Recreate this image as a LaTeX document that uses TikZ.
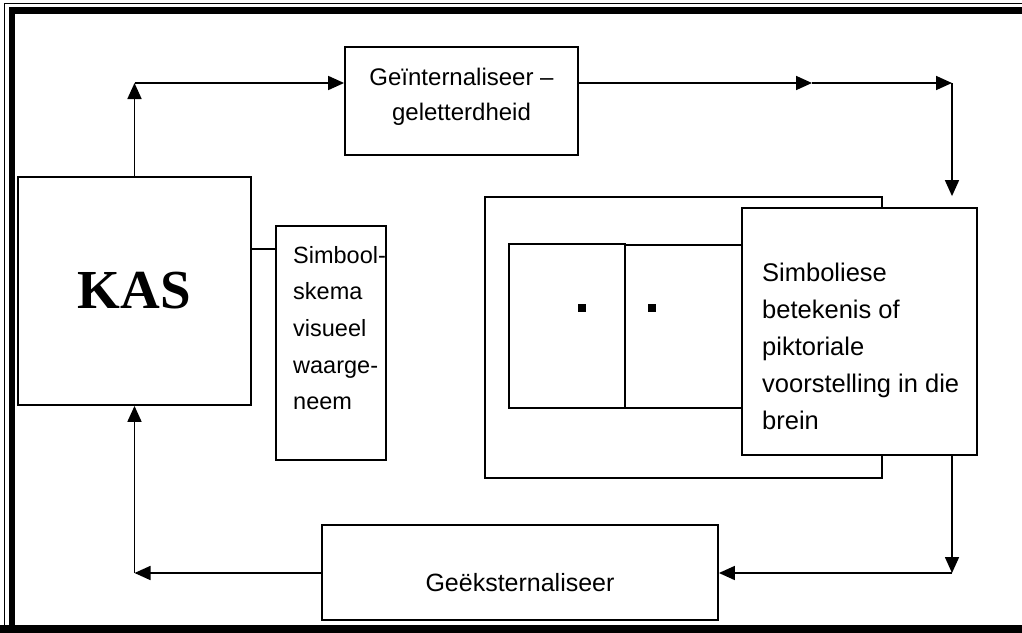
\documentclass[tikz,border=0pt]{standalone}
\usepackage{fontspec}
\setmainfont{Liberation Sans}
\newfontfamily\kasfont{Liberation Serif}
\usetikzlibrary{arrows.meta}

\tikzset{
  box/.style={draw=black, line width=1.8pt, fill=white, inner sep=0pt, rectangle},
  link/.style={draw=black, line width=1.7pt},
  arr/.style={link, -{Triangle[length=16pt,width=14pt]}},
  label/.style={inner sep=0pt, align=left, anchor=north west},
}

\begin{document}
\begin{tikzpicture}[x=1pt,y=-1pt]
  \useasboundingbox (0,0) rectangle (1022,632);
  \clip (0,0) rectangle (1022,632);

  % page border: thin outer rule, thick inner rule
  \draw[line width=1.3pt] (4.5,700) -- (4.5,3.5) -- (1100,3.5);
  \draw[line width=6.5pt] (12,700) -- (12,10.5) -- (1100,10.5);
  \draw[line width=8pt] (0,628.5) -- (1100,628.5);

  % main boxes
  \node[box, minimum width=233pt, minimum height=228pt] (kas) at (134.5,291)
    {\kasfont\bfseries\fontsize{55}{60}\selectfont KAS};
  \node[box, minimum width=233pt, minimum height=108pt] (gein) at (461.5,101) {};
  \node[inner sep=0pt, align=center, font=\fontsize{24}{35}\selectfont] (geintxt)
    at (461.5,97) {Ge\"internaliseer --\\geletterdheid};
  \node[box, minimum width=110pt, minimum height=234pt] (simbool) at (331,343) {};
  \node[label, font=\fontsize{23.5}{36.6}\selectfont] (simbooltxt) at (293,246)
    {Simbool-\\skema\\visueel\\waarge-\\neem};

  % nested frames of the mental image
  \node[box, minimum width=397pt, minimum height=281pt] (outer) at (683.5,337.5) {};
  \node[box, minimum width=116pt, minimum height=164pt] (inA) at (567,326) {};
  \node[box, minimum width=117pt, minimum height=163pt] (inB) at (683.5,326.5) {};
  \node[fill=black, minimum size=8pt, inner sep=0pt] (dotA) at (582,308) {};
  \node[fill=black, minimum size=8pt, inner sep=0pt] (dotB) at (652,308) {};
  \node[box, minimum width=235pt, minimum height=247pt] (simbol) at (859.5,331.5) {};
  \node[label, font=\fontsize{25.5}{37}\selectfont] (simboltxt) at (762,263)
    {Simboliese\\betekenis of\\piktoriale\\voorstelling in die\\brein};

  \node[box, minimum width=396pt, minimum height=95pt] (geek) at (520,572.5) {};
  \node[inner sep=0pt, font=\fontsize{25}{30}\selectfont] (geektxt) at (520,583)
    {Ge\"eksternaliseer};

  % corner points of the cycle
  \coordinate (c1) at (134.5,83);
  \coordinate (m1) at (812,83);
  \coordinate (c2) at (952,83);
  \coordinate (c3) at (952,573);
  \coordinate (c4) at (134.5,573);
  \coordinate (k1) at (250,249);

  % connectors
  \draw[arr] (kas.north) -- (c1);
  \draw[arr] (c1) -- (gein.west |- c1);
  \draw[arr] (gein.east |- c1) -- (m1);
  \draw[arr] (m1) -- (c2);
  \draw[arr] (c2) -- (c2 |- outer.north);
  \draw[arr] (c2 |- simbol.south) -- (c3);
  \draw[arr] (c3) -- (geek.east |- c3);
  \draw[arr] (geek.west |- c3) -- (c4);
  \draw[arr] (c4) -- (kas.south);
  \draw[link] (kas.east |- k1) -- (simbool.west |- k1);
\end{tikzpicture}
\end{document}
